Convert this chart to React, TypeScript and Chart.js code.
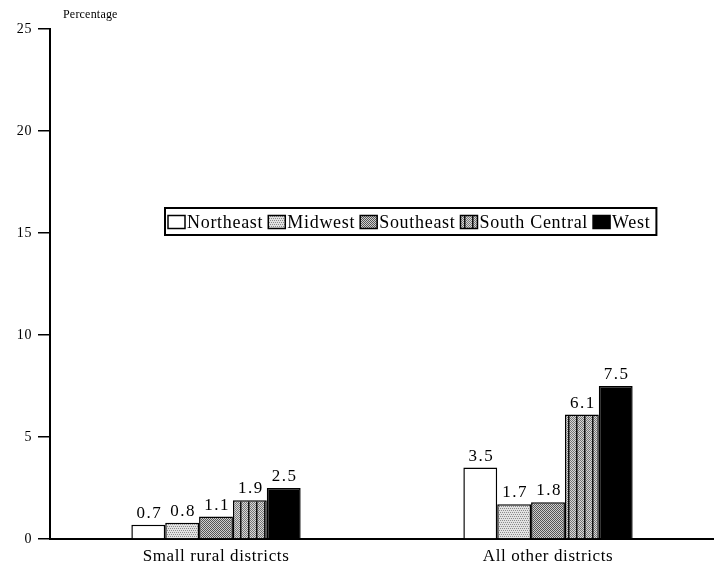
import React, { useEffect, useRef } from "react";
import { Chart, registerables } from "chart.js";

Chart.register(...registerables);

const categories = ["Small rural districts", "All other districts"];
const regions = ["Northeast", "Midwest", "Southeast", "South Central", "West"];
const northeast = [0.7, 3.5];
const midwest = [0.8, 1.7];
const southeast = [1.1, 1.8];
const southCentral = [1.9, 6.1];
const west = [2.5, 7.5];
const yTicks = [0, 5, 10, 15, 20, 25];

const SERIF = "'Liberation Serif', 'DejaVu Serif', serif";

function makePattern(kind: string): CanvasPattern | string {
  if (kind === "white") return "#ffffff";
  if (kind === "black") return "#000000";
  const c = document.createElement("canvas");
  c.width = 8;
  c.height = 8;
  const g = c.getContext("2d")!;
  if (kind === "light") {
    g.fillStyle = "#e2e2e2";
    g.fillRect(0, 0, 8, 8);
    g.fillStyle = "#8a8a8a";
    for (let y = 0; y < 8; y += 2)
      for (let x = (y / 2) % 2; x < 8; x += 2) g.fillRect(x, y, 1, 1);
  } else if (kind === "medium") {
    g.fillStyle = "#cfcfcf";
    g.fillRect(0, 0, 8, 8);
    g.fillStyle = "#555";
    for (let y = 0; y < 8; y += 1)
      for (let x = y % 2; x < 8; x += 2) g.fillRect(x, y, 1, 1);
  } else if (kind === "stripes") {
    g.fillStyle = "#d8d8d8";
    g.fillRect(0, 0, 8, 8);
    g.fillStyle = "#777";
    for (let y = 0; y < 8; y += 1)
      for (let x = y % 2; x < 8; x += 2) g.fillRect(x, y, 1, 1);
    g.fillStyle = "#111";
    g.fillRect(0, 0, 1.5, 8);
  }
  return g.createPattern(c, "repeat")!;
}

export default function App() {
  const ref = useRef<HTMLCanvasElement>(null);
  useEffect(() => {
    const canvas = ref.current!;
    const fills = [
      makePattern("white"),
      makePattern("light"),
      makePattern("medium"),
      makePattern("stripes"),
      makePattern("black"),
    ];
    const series = [northeast, midwest, southeast, southCentral, west];

    const spacing = {
      id: "spacing",
      beforeDraw(chart: any) {
        (chart.ctx as any).letterSpacing = "0.6px";
      },
    };

    const valueLabels = {
      id: "valueLabels",
      afterDatasetsDraw(chart: any) {
        const ctx = chart.ctx;
        ctx.save();
        ctx.letterSpacing = "1.5px";
        ctx.fillStyle = "#000";
        ctx.font = `17px ${SERIF}`;
        ctx.textAlign = "center";
        ctx.textBaseline = "bottom";
        chart.data.datasets.forEach((ds: any, i: number) => {
          const meta = chart.getDatasetMeta(i);
          meta.data.forEach((bar: any, j: number) => {
            ctx.fillText(Number(ds.data[j]).toFixed(1), bar.x + 1, bar.y - 3);
          });
        });
        ctx.restore();
      },
    };

    const customLegend = {
      id: "customLegend",
      afterDraw(chart: any) {
        const ctx = chart.ctx;
        ctx.save();
        ctx.letterSpacing = "0.7px";
        ctx.font = `18px ${SERIF}`;
        ctx.textBaseline = "middle";
        ctx.textAlign = "left";
        const top = 208;
        const h = 27;
        let x = 168;
        const left = 165;
        const cy = top + h / 2 + 0.5;
        regions.forEach((r, i) => {
          const sw = 17;
          const sh = 13;
          ctx.fillStyle = fills[i] as any;
          ctx.fillRect(x, cy - sh / 2, sw, sh);
          ctx.strokeStyle = "#000";
          ctx.lineWidth = 1.5;
          ctx.strokeRect(x, cy - sh / 2, sw, sh);
          x += sw + 2;
          ctx.fillStyle = "#000";
          ctx.fillText(r, x, cy + 1);
          x += ctx.measureText(r).width + 5;
        });
        ctx.strokeStyle = "#000";
        ctx.lineWidth = 2;
        ctx.strokeRect(left, top, x - left + 1, h);
        // axis title
        ctx.letterSpacing = "0.2px";
        ctx.font = `12px ${SERIF}`;
        ctx.textBaseline = "middle";
        ctx.fillText("Percentage", 63, 15);
        ctx.restore();
      },
    };

    const chart = new Chart(canvas, {
      type: "bar",
      data: {
        labels: categories,
        datasets: regions.map((r, i) => ({
          label: r,
          data: series[i],
          backgroundColor: fills[i] as any,
          borderColor: "#000",
          borderWidth: 1.5,
          borderSkipped: "bottom",
          categoryPercentage: 0.51,
          barPercentage: 1.0,
        })),
      },
      options: {
        responsive: false,
        animation: false,
        layout: { padding: { top: 29, right: 0, left: 0, bottom: 0 } },
        plugins: {
          legend: { display: false },
          tooltip: { enabled: false },
        },
        scales: {
          x: {
            grid: { display: false, drawTicks: false },
            border: { display: true, color: "#000", width: 2 },
            ticks: {
              color: "#000",
              font: { family: SERIF, size: 17 },
              padding: 7,
            },
            afterFit(scale: any) {
              scale.height = 31;
            },
          },
          y: {
            min: 0,
            max: 25,
            afterBuildTicks(scale: any) {
              scale.ticks = yTicks.map((v) => ({ value: v }));
            },
            grid: {
              drawOnChartArea: false,
              drawTicks: true,
              tickLength: 12,
              color: "#000",
              lineWidth: 1.5,
            },
            border: { display: true, color: "#000", width: 2 },
            ticks: {
              color: "#000",
              font: { family: SERIF, size: 14 },
              padding: 6,
            },
            afterFit(scale: any) {
              scale.width = 50;
            },
          },
        },
      },
      plugins: [spacing, valueLabels, customLegend],
    });
    return () => chart.destroy();
  }, []);
  return (
    <div style={{ position: "fixed", left: 0, top: 0, width: 714, height: 570, background: "#fff" }}>
      <canvas ref={ref} width={714} height={570} style={{ width: 714, height: 570 }} />
    </div>
  );
}
